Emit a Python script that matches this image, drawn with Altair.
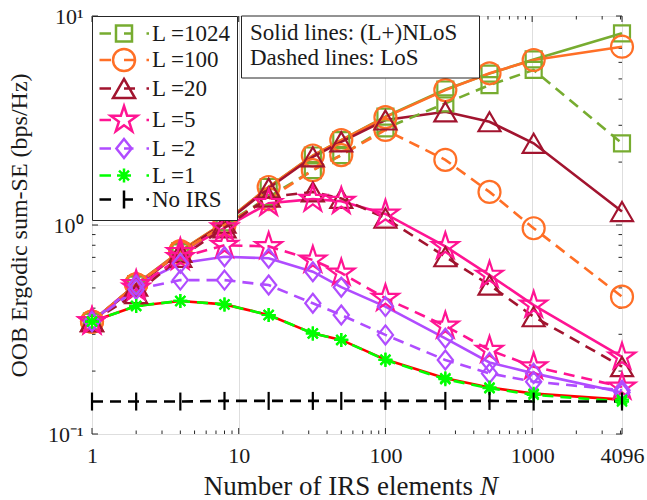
import math
import altair as alt
import pandas as pd

# ---------------- data ----------------
N = [1, 2, 4, 8, 16, 32, 50, 100, 256, 512, 1024, 4096]

labels = ["L =1024", "L =100", "L =20", "L =5", "L =2", "L =1", "No IRS"]
colors = ["#77AC30", "#FF6F26", "#A2142F", "#FF1493", "#B04CFF", "#00FF00", "#000000"]

# solid lines: (L+)NLoS
nlos_L1024 = [0.345, 0.52, 0.75, 1.03, 1.52, 2.15, 2.55, 3.30, 4.45, 5.30, 6.20, 8.26]
nlos_L100 = [0.345, 0.52, 0.75, 1.03, 1.52, 2.15, 2.55, 3.28, 4.42, 5.32, 6.16, 7.13]
nlos_L20 = [0.345, 0.51, 0.74, 1.02, 1.50, 2.12, 2.50, 3.18, 3.48, 3.12, 2.46, 1.16]
nlos_L5 = [0.345, 0.52, 0.74, 0.97, 1.27, 1.33, 1.30, 1.13, 0.79, 0.576, 0.414, 0.234]
nlos_L2 = [0.345, 0.516, 0.656, 0.705, 0.693, 0.598, 0.504, 0.407, 0.287, 0.220, 0.195, 0.158]
nlos_L1 = [0.345, 0.41, 0.433, 0.417, 0.371, 0.303, 0.282, 0.227, 0.185, 0.167, 0.156, 0.146]

# dashed lines: LoS
los_L1024 = [0.345, 0.52, 0.74, 1.00, 1.36, 1.83, 2.16, 2.90, 3.82, 4.67, 5.52, 2.46]
los_L100 = [0.345, 0.52, 0.74, 1.00, 1.33, 1.83, 2.16, 2.85, 2.05, 1.44, 0.965, 0.454]
los_L20 = [0.345, 0.47, 0.70, 0.97, 1.36, 1.44, 1.34, 1.08, 0.705, 0.516, 0.364, 0.210]
los_L5 = [0.345, 0.50, 0.70, 0.80, 0.79, 0.68, 0.59, 0.446, 0.329, 0.252, 0.210, 0.168]
los_L2 = [0.345, 0.492, 0.545, 0.545, 0.516, 0.422, 0.371, 0.298, 0.226, 0.195, 0.178, 0.162]
los_L1 = [0.345, 0.41, 0.433, 0.417, 0.371, 0.303, 0.282, 0.226, 0.183, 0.1655, 0.154, 0.143]

no_irs = [0.143, 0.143, 0.143, 0.144, 0.144, 0.144, 0.144, 0.144, 0.144, 0.144, 0.143, 0.143]

x_tick_labels = [1, 10, 100, 1000, 4096]
x_minor_ticks = [2, 3, 4, 5, 6, 7, 8, 9, 20, 30, 40, 50, 60, 70, 80, 90,
                 200, 300, 400, 500, 600, 700, 800, 900, 2000, 3000, 4000]
y_tick_values = [0.1, 1, 10]
y_minor_ticks = [0.2, 0.3, 0.4, 0.5, 0.6, 0.7, 0.8, 0.9, 2, 3, 4, 5, 6, 7, 8, 9]

x_title_main = "Number of IRS elements"
x_title_var = "N"
y_title = "OOB Ergodic sum-SE (bps/Hz)"
note_lines = ["Solid lines: (L+)NLoS", "Dashed lines: LoS"]

# ---------------- tables ----------------
nlos = {"L =1024": nlos_L1024, "L =100": nlos_L100, "L =20": nlos_L20,
        "L =5": nlos_L5, "L =2": nlos_L2, "L =1": nlos_L1}
los = {"L =1024": los_L1024, "L =100": los_L100, "L =20": los_L20,
       "L =5": los_L5, "L =2": los_L2, "L =1": los_L1, "No IRS": no_irs}

rows = []
for lab, vals in nlos.items():
    for n, v in zip(N, vals):
        rows.append({"N": n, "value": v, "series": lab, "style": "solid"})
for lab, vals in los.items():
    for n, v in zip(N, vals):
        rows.append({"N": n, "value": v, "series": lab, "style": "dashed"})
df = pd.DataFrame(rows)

# ---------------- geometry / style ----------------
W, H = 530, 418
FONT = "Liberation Serif"
TXT = "#1a1a1a"
AX = "#262626"

def star_pts():
    pts = []
    for k in range(10):
        a = math.radians(-90 + 36 * k)
        r = 1.0 if k % 2 == 0 else 0.382
        pts.append((r * math.cos(a), r * math.sin(a)))
    return pts

marker_defs = {
    "L =1024": {"polys": [([(-1, -1), (1, -1), (1, 1), (-1, 1)], True)], "r": 8},
    "L =100": {"circle": True, "r": 11},
    "L =20": {"polys": [([(0, -0.866), (1, 0.866), (-1, 0.866)], True)], "r": 11},
    "L =5": {"polys": [(star_pts(), True)], "r": 14},
    "L =2": {"polys": [([(0, -1), (0.8, 0), (0, 1), (-0.8, 0)], True)], "r": 9.5},
    "L =1": {"polys": [([(-1, 0), (1, 0)], False), ([(0, -1), (0, 1)], False),
                       ([(-0.71, -0.71), (0.71, 0.71)], False),
                       ([(-0.71, 0.71), (0.71, -0.71)], False)], "r": 7},
    "No IRS": {"polys": [([(0, -1), (0, 1)], False)], "r": 9},
}

def f(v):
    return f"{v:.3f}"

def marker_path(lab, s):
    d = marker_defs[lab]
    if d.get("circle"):
        r = s
        return f"M{f(-r)},0A{f(r)},{f(r)} 0 1,1 {f(r)},0A{f(r)},{f(r)} 0 1,1 {f(-r)},0Z"
    out = ""
    for pts, closed in d["polys"]:
        out += "M" + "L".join(f"{f(x * s)},{f(y * s)}" for x, y in pts)
        if closed:
            out += "Z"
    return out

LEG_SIZE = 380
U = math.sqrt(LEG_SIZE) / 2.0

def legend_path(lab):
    r = marker_defs[lab]["r"]
    p = marker_path(lab, r / U)
    p += f"M{f(-24.5 / U)},0H{f(-13 / U)}"
    if lab != "L =5":
        p += f"M0,0H{f(r / U)}"
    p += f"M{f(22.5 / U)},0H{f(25 / U)}"
    return p

legend_shapes = [legend_path(l) for l in labels]

xscale = alt.Scale(type="log", domain=[1, 4096], nice=False)
yscale = alt.Scale(type="log", domain=[0.1, 10], nice=False)
cscale = alt.Scale(domain=labels, range=colors)

xaxis = alt.Axis(values=x_tick_labels, grid=True, gridColor="#DEDEDE", gridWidth=1,
                 ticks=False, domain=False, labelFlush=False, labelOverlap=False,
                 labelExpr="format(datum.value, 'd')", labelFont=FONT, labelFontSize=22,
                 labelColor=TXT, labelPadding=11, title=None)
yaxis = alt.Axis(values=y_tick_values, grid=True, gridColor="#DEDEDE", gridWidth=1,
                 ticks=False, domain=False, labelOverlap=False,
                 labelExpr="datum.value < 0.5 ? '10⁻¹' : (datum.value < 5 ? '10⁰' : '10¹')",
                 labelFont=FONT, labelFontSize=22, labelColor=TXT, labelPadding=9,
                 title=y_title, titleFont=FONT, titleFontSize=24, titleFontWeight="normal",
                 titleColor=TXT, titleAngle=270, titleAlign="center", titleBaseline="middle",
                 titleX=-73, titleY=H / 2)

X = alt.X("N:Q", scale=xscale, axis=xaxis)
Y = alt.Y("value:Q", scale=yscale, axis=yaxis)
C = alt.Color("series:N", scale=cscale, legend=None)

layers = []

dashed_df = df[df["style"] == "dashed"]

# legend carrier first (invisible marks, visible legend)
leg = alt.Legend(title=None, orient="none", legendX=0, legendY=0, padding=6,
                 fillColor="white", strokeColor=AX, cornerRadius=0,
                 labelFont=FONT, labelFontSize=23, labelColor=TXT,
                 symbolSize=LEG_SIZE, symbolStrokeWidth=2.5, symbolOpacity=1,
                 symbolOffset=14.5, labelOffset=16.5, rowPadding=-3.5)
layers.append(alt.Chart(dashed_df).mark_point(opacity=0, filled=False, strokeWidth=2.5).encode(
    x=X, y=Y,
    color=alt.Color("series:N", scale=cscale, legend=leg),
    shape=alt.Shape("series:N", scale=alt.Scale(domain=labels, range=legend_shapes), legend=leg)))

# ticks (inside, on all four sides)
xt_major = pd.DataFrame({"N": x_tick_labels})
xt_minor = pd.DataFrame({"N": x_minor_ticks})
yt_major = pd.DataFrame({"value": y_tick_values})
yt_minor = pd.DataFrame({"value": y_minor_ticks})
for dft, ln in ((xt_major, 6), (xt_minor, 3.5)):
    layers.append(alt.Chart(dft).mark_rule(color=AX, strokeWidth=1).encode(
        x=X, y=alt.value(H), y2=alt.value(H - ln)))
    layers.append(alt.Chart(dft).mark_rule(color=AX, strokeWidth=1).encode(
        x=X, y=alt.value(0), y2=alt.value(ln)))
for dft, ln in ((yt_major, 6), (yt_minor, 3.5)):
    layers.append(alt.Chart(dft).mark_rule(color=AX, strokeWidth=1).encode(
        y=Y, x=alt.value(0), x2=alt.value(ln)))
    layers.append(alt.Chart(dft).mark_rule(color=AX, strokeWidth=1).encode(
        y=Y, x=alt.value(W), x2=alt.value(W - ln)))

# solid lines
solid_df = df[(df["style"] == "solid") & (df["series"] != "L =1")]
layers.append(alt.Chart(solid_df).mark_line(strokeWidth=2.6).encode(
    x=X, y=Y, color=C, detail="series:N"))
red_df = df[(df["style"] == "solid") & (df["series"] == "L =1")]
layers.append(alt.Chart(red_df).mark_line(strokeWidth=2.6, color="#FF0000").encode(x=X, y=Y))
layers.append(alt.Chart(dashed_df).mark_line(strokeWidth=2.6, strokeDash=[11, 7]).encode(
    x=X, y=Y, color=C, detail="series:N"))

# markers
for lab in labels:
    r = marker_defs[lab]["r"]
    layers.append(alt.Chart(df[df["series"] == lab]).mark_point(
        shape=marker_path(lab, 1.0), size=(2 * r) ** 2, filled=False, strokeWidth=2.2,
        opacity=1).encode(x=X, y=Y, color=C))

# annotation box
one = pd.DataFrame({"k": [0]})
layers.append(alt.Chart(one).mark_rect(fill="white", stroke=AX, strokeWidth=1).encode(
    x=alt.value(149.5), x2=alt.value(387.5), y=alt.value(0), y2=alt.value(62)))
for i, t in enumerate(note_lines):
    layers.append(alt.Chart(pd.DataFrame({"t": [t]})).mark_text(
        align="left", baseline="middle", font=FONT, fontSize=23, color=TXT).encode(
        text="t:N", x=alt.value(158), y=alt.value(17 + 25 * i)))

# x-axis title with italic N
layers.append(alt.Chart(pd.DataFrame({"t": [x_title_main]})).mark_text(
    align="right", baseline="alphabetic", font=FONT, fontSize=27, color=TXT).encode(
    text="t:N", x=alt.value(381), y=alt.value(479)))
layers.append(alt.Chart(pd.DataFrame({"t": [x_title_var]})).mark_text(
    align="left", baseline="alphabetic", font=FONT, fontSize=27, fontStyle="italic",
    color=TXT).encode(text="t:N", x=alt.value(388), y=alt.value(479)))

chart = alt.layer(*layers).properties(
    width=W, height=H,
    autosize=alt.AutoSizeParams(type="none"),
    padding={"left": 92, "top": 16, "right": 25, "bottom": 66},
    background="white",
).configure_view(stroke=AX, strokeWidth=1).configure(font=FONT)

chart.save("out.html", embed_options={"renderer": "svg", "actions": False})
